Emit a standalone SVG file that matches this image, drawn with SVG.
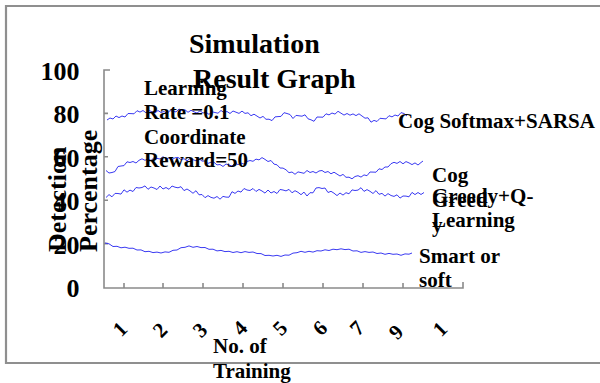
<svg xmlns="http://www.w3.org/2000/svg" width="600" height="383" viewBox="0 0 600 383">
<style>
text{font-family:"Liberation Serif","Times New Roman",serif;font-weight:bold;fill:#000}
.big{font-size:26px}
.ttl{font-size:28px}
.lab{font-size:21px}
.ax{stroke:#8a8a8a;stroke-width:1.6;fill:none}
.frm{stroke:#8f8f8f;stroke-width:2.2;fill:none}
.crv{stroke:#3a3af2;stroke-width:1;fill:none;stroke-linejoin:round}
.tk{font-size:21px;text-anchor:middle;dominant-baseline:central}
</style>
<rect x="0" y="0" width="600" height="383" fill="#fff"/>
<g id="frame"><path class="frm" d="M601 6H6V363H601"/></g>
<g id="axes">
<path class="ax" d="M110 70H104V288H463V282"/>
<path class="ax" d="M104 113.4h4M104 156.8h4M104 200.2h4M104 243.6h4"/>
<path class="ax" d="M124 288v-5M163 288v-5M203 288v-5M243 288v-5M283 288v-5M323 288v-5M363 288v-5M403 288v-5"/>
</g>
<g id="curves">
<polyline class="crv" points="107,120 110,118 113,119 116,116 119,117.6 122,116 125,117 128,113.5 131,113.6 134,113.8 137,110.7 140,112.1 143,110.5 146,112.8 149,110.5 152,111.8 155,113 158,110.5 161,112.5 164,111.5 167,113.5 170,110.6 173,111.3 176,111.9 179,109 182,110.6 185,109.8 188,112.3 191,110.3 194,111.8 197,113.1 200,110.8 203,113 206,112.2 209,114.4 212,111.8 215,112.5 218,113.2 221,110.5 224,112.5 227,111.5 230,113.5 233,111 236,112.2 239,113.4 242,111.1 245,113.4 248,112.8 251,115.7 254,114.2 257,116.1 260,118 263,116.4 266,119.3 269,119.2 272,120.6 275,116.9 278,116.6 281,116.4 284,112.7 287,113.5 290,114.5 293,118.5 296,115.4 299,115.8 302,116.2 305,114.8 308,118.8 311,119.8 314,121.3 317,117 320,117.1 323,117.2 326,113.8 329,114.9 332,113 335,114.1 338,111.3 341,113.2 344,115.1 347,113.5 350,115.2 353,113.9 356,115.6 359,113.8 362,116 365,118.2 368,117.8 371,122.2 374,120.4 377,121.5 380,118.3 383,118.6 386,118.9 389,115.7 392,116.9 395,115 398,116 401,112.6 404,113.5 407,116"/>
<polyline class="crv" points="106,170.5 109,173 112,172.5 115,171.5 118,166.5 121,166 124,165.6 127,161.8 130,162.5 133,161.5 136,163 139,160.3 142,158.8 145,160.3 148,158.9 151,160.5 154,157.7 157,158.4 160,159 163,156.7 166,158.8 169,158 172,159.6 175,157.8 178,157.4 181,159.5 184,158.7 187,160.9 190,158.5 193,159.7 196,160.8 199,158.5 202,161.1 205,161 208,163.4 211,162.2 214,162.3 217,164.9 220,164.5 223,166.5 226,164 229,165 232,166 235,163.1 238,164.6 241,163.1 244,164.1 247,161.5 250,160.5 253,161.3 256,159.1 259,159.9 262,157.6 265,159.4 268,161.5 271,160.5 274,164.1 277,164.8 280,168 283,168.1 286,169.8 289,172.7 292,172 295,174.3 298,171.9 301,172.6 304,173.3 307,170.5 310,172.5 313,171.5 316,173 319,171 322,170.5 325,172.5 328,171.5 331,173.8 334,172.2 337,174.1 340,176 343,174.4 346,177.3 349,177.2 352,178.8 355,176.5 358,175.7 361,177.1 364,174.9 367,175.7 370,172 373,172.1 376,172.2 379,168.8 382,169.5 385,167 388,167 391,163.7 394,162.3 397,163.4 400,161.5 403,163.8 406,161.6 409,162.9 412,164.6 415,162.9 418,165 421,162.5 423,161"/>
<polyline class="crv" points="106,197.5 109,194.6 112,196.8 115,193.4 118,193.5 121,194.1 124,189.8 127,192.2 130,190.1 133,191.5 136,187.5 139,188 142,187.5 145,185.9 148,189.3 151,187 154,188 157,189.5 160,186 163,189 166,187.5 169,189.3 172,186 175,187.2 178,187.8 181,186.7 184,190.6 187,189 190,190.9 193,193.3 196,190.7 199,194.8 202,194.5 205,197.7 208,195.6 211,197.4 214,198.2 217,196.5 220,199.2 223,196.4 226,197.1 229,197.2 232,191.7 235,193.4 238,191 241,192.1 244,188.5 247,190 250,190.5 253,188.5 256,191.5 259,189.4 262,191 265,193.1 268,190 271,193 274,191.5 277,193.5 280,189.5 283,190 286,190.9 289,189.4 292,192.8 295,190.7 298,192.3 301,194.7 304,192.1 307,196 310,192.7 313,192.8 316,188 319,187.6 322,188.5 325,188 328,192.5 331,191.3 334,193.2 337,195.6 340,193 343,195.1 346,192.7 349,193.8 352,189.9 355,190.5 358,190.1 361,187.7 364,191.4 367,189.6 370,191.3 373,193.5 376,190.6 379,194.3 382,193.4 385,196.1 388,193.6 391,195.5 394,196.4 397,194.8 400,198.1 403,196 406,196.1 409,196.8 412,192.4 415,194.6 418,192.5 421,194.5 424,192.5"/>
<polyline class="crv" points="105,243 109,243.8 113,246.5 117,246.3 121,247.8 125,247.2 129,248.3 133,248.2 137,250 141,249.9 145,251.7 149,251.3 153,252.6 157,252.1 161,253 165,251.9 169,252.3 173,250.3 177,250 181,247.7 185,247.3 189,245.9 193,247.3 197,246.5 201,247.6 205,247.5 209,249.3 213,249.2 217,250.9 221,250.4 225,251.6 229,251.3 233,252.5 237,251.7 241,252.7 245,251.6 249,252.4 253,252 257,253.5 261,253.6 265,255.5 269,255.3 273,256 277,255.3 281,256.4 285,255 289,255.2 293,253.1 297,252.7 301,251.3 305,252.3 309,251.3 313,252.1 317,250.7 321,251 325,249.8 329,250.5 333,249.2 337,249.7 341,248.8 345,249.6 349,249.2 353,251 357,250.8 361,252.4 365,251.6 369,252.4 373,252 377,253.5 381,253 385,254.3 389,253.4 393,254.3 397,254 401,255.3 405,253.9 409,254.2 412,253"/>
</g>
<g id="title">
<text class="ttl" x="189" y="53">Simulation</text>
<text class="ttl" x="193" y="88">Result Graph</text>
</g>
<g id="y-ticks" class="big" text-anchor="end">
<text class="big" x="79.5" y="80">100</text>
<text class="big" x="79.5" y="123.4">80</text>
<text class="big" x="79.5" y="166.8">60</text>
<text class="big" x="79.5" y="210.2">40</text>
<text class="big" x="79.5" y="253.6">20</text>
<text class="big" x="79.5" y="297">0</text>
</g>
<g id="y-title">
<text class="big" transform="translate(66,252) rotate(-90)">Detection</text>
<text class="big" transform="translate(97,252) rotate(-90)">Percentage</text>
</g>
<g id="x-ticks">
<text class="tk" transform="translate(120,329) rotate(-45)">1</text>
<text class="tk" transform="translate(160,330) rotate(-45)">2</text>
<text class="tk" transform="translate(200,330) rotate(-45)">3</text>
<text class="tk" transform="translate(240,328) rotate(-45)">4</text>
<text class="tk" transform="translate(280,328) rotate(-45)">5</text>
<text class="tk" transform="translate(320,328) rotate(-45)">6</text>
<text class="tk" transform="translate(357,328) rotate(-45)">7</text>
<text class="tk" transform="translate(396,332) rotate(-45)">9</text>
<text class="tk" transform="translate(440,329) rotate(-45)">1</text>
</g>
<g id="x-title">
<text class="lab" x="213" y="353">No. of</text>
<text class="lab" x="213" y="378">Training</text>
</g>
<g id="params">
<text class="lab" x="144" y="95">Learning</text>
<text class="lab" x="144" y="119">Rate =0.1</text>
<text class="lab" x="144" y="144">Coordinate</text>
<text class="lab" x="144" y="167">Reward=50</text>
</g>
<g id="legend-sarsa"><text class="lab" x="398" y="128">Cog Softmax+SARSA</text></g>
<g id="legend-cog-greedy">
<text class="lab" x="432" y="182">Cog</text>
<text class="lab" x="432" y="207">Greed</text>
<text class="lab" x="432" y="232">y</text>
</g>
<g id="legend-qlearning">
<text class="lab" x="432" y="203">Greedy+Q-</text>
<text class="lab" x="432" y="227">Learning</text>
</g>
<g id="legend-smart">
<text class="lab" x="419" y="263">Smart or</text>
<text class="lab" x="419" y="287">soft</text>
</g>
</svg>
